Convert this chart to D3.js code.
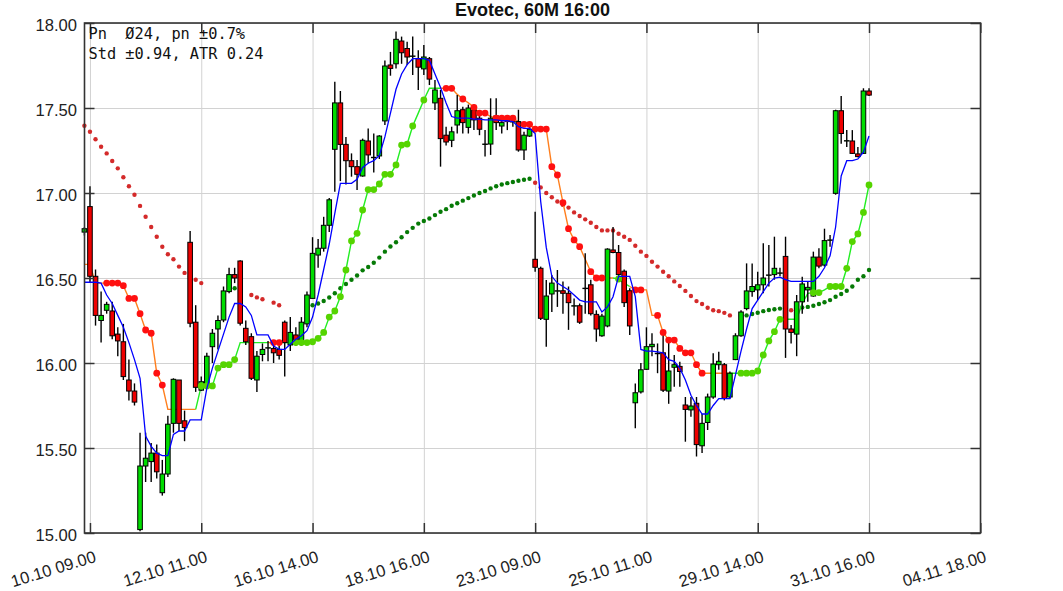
<!DOCTYPE html>
<html><head><meta charset="utf-8">
<script src="https://cdn.jsdelivr.net/npm/d3@7"></script>
<style>body{margin:0;background:#fff}svg{display:block}</style>
</head><body>
<svg id="chart" width="1063" height="591"></svg>
<script>
// ---------- data ----------
const titleText = "Evotec, 60M 16:00";
const infoLines = ["Pn  Ø24, pn ±0.7%", "Std ±0.94, ATR 0.24"];
const xTickIndex = [1, 21, 41, 61, 81, 101, 121, 141, 161];
const xTickLabels = ["10.10 09.00","12.10 11.00","16.10 14.00","18.10 16.00","23.10 09.00","25.10 11.00","29.10 14.00","31.10 16.00","04.11 18.00"];
const yTicks = [15.0, 15.5, 16.0, 16.5, 17.0, 17.5, 18.0];

const opens = [16.77,16.92,16.51,16.25,16.31,16.306,16.17,16.125,15.90,15.835,
15.02,15.394,15.42,15.47,15.237,15.347,15.645,15.90,15.66,16.71,
16.24,15.84,15.865,16.096,16.20,16.253,16.42,16.52,16.60,16.204,
16.155,15.90,16.05,16.09,16.085,16.08,16.24,16.106,16.165,16.12,
16.23,16.38,16.635,16.675,16.81,17.257,17.53,17.286,17.19,17.155,
17.10,17.306,17.21,17.218,17.424,17.753,17.76,17.894,17.85,17.806,
17.79,17.73,17.79,17.53,17.557,17.34,17.31,17.40,17.49,17.386,
17.488,17.44,17.288,17.288,17.453,17.394,17.42,17.42,17.42,17.253,
17.335,16.61,16.557,16.257,16.406,16.425,16.425,16.41,16.337,16.337,
16.44,16.46,16.286,16.16,16.218,16.665,16.65,16.54,16.425,15.766,
15.83,15.963,16.096,16.057,16.06,15.835,15.975,15.98,15.753,15.724,
15.763,15.513,15.65,15.80,15.99,15.99,15.80,16.02,16.16,16.32,
16.42,16.43,16.46,16.518,16.52,16.53,16.627,16.20,16.17,16.36,
16.43,16.394,16.623,16.576,16.724,16.998,17.484,17.308,17.306,17.23,
17.233,17.60];
const highs = [16.80,17.04,16.55,16.42,16.36,16.36,16.21,16.23,16.02,15.88,
15.59,15.59,15.53,15.52,15.43,15.69,15.91,15.90,15.72,16.776,
16.34,15.92,16.06,16.20,16.28,16.45,16.56,16.56,16.605,16.25,
16.175,16.07,16.115,16.13,16.115,16.10,16.25,16.27,16.21,16.27,
16.42,16.74,16.73,16.86,16.97,17.655,17.60,17.33,17.233,17.194,
17.32,17.38,17.35,17.34,17.78,17.83,17.95,17.92,17.89,17.92,
17.84,17.87,17.80,17.665,17.606,17.39,17.39,17.576,17.508,17.52,
17.52,17.46,17.37,17.557,17.557,17.445,17.45,17.445,17.49,17.36,
17.39,16.89,16.567,16.488,16.518,16.547,16.48,16.45,16.38,16.35,
16.645,16.49,16.31,16.29,16.675,16.80,16.694,16.55,16.44,15.88,
16.00,16.21,16.175,16.115,16.194,16.135,16.047,16.008,15.80,15.80,
15.80,15.70,15.82,16.057,16.066,16.00,15.95,16.175,16.31,16.586,
16.586,16.537,16.704,16.694,16.743,16.56,16.743,16.224,16.40,16.507,
16.48,16.655,16.675,16.79,16.753,17.49,17.57,17.37,17.37,17.27,
17.616,17.616];
const lows = [16.75,16.47,16.22,16.12,16.29,16.14,16.04,15.90,15.78,15.75,
15.01,15.30,15.30,15.32,15.22,15.33,15.59,15.60,15.54,16.21,
15.83,15.835,15.86,16.00,16.08,16.24,16.41,16.47,16.22,16.106,
15.90,15.83,16.01,16.01,16.00,16.02,15.92,16.07,16.10,16.10,
16.21,16.38,16.56,16.655,16.77,17.008,17.07,17.05,17.096,17.018,
17.096,17.175,17.12,17.20,17.40,17.69,17.733,17.76,17.753,17.694,
17.606,17.694,17.635,17.488,17.155,17.28,17.27,17.35,17.35,17.35,
17.37,17.34,17.214,17.224,17.37,17.35,17.37,17.39,17.243,17.194,
17.33,16.537,16.253,16.096,16.30,16.33,16.29,16.195,16.28,16.23,
16.29,16.28,16.125,16.155,16.21,16.645,16.507,16.33,16.165,15.616,
15.82,15.96,16.04,15.94,15.83,15.76,15.86,15.86,15.537,15.684,
15.45,15.47,15.606,15.79,15.96,15.78,15.79,16.017,16.155,16.31,
16.39,16.37,16.41,16.45,16.49,16.51,16.03,16.115,16.04,16.29,
16.36,16.39,16.557,16.567,16.684,16.99,17.29,17.27,17.23,17.21,
17.23,17.57];
const closes = [16.79,16.51,16.28,16.28,16.345,16.16,16.13,15.92,15.835,15.77,
15.394,15.44,15.47,15.36,15.347,15.64,15.904,15.645,15.62,16.234,
15.857,15.89,16.04,16.175,16.25,16.424,16.52,16.50,16.234,16.125,
15.91,16.04,16.08,16.09,16.06,16.045,16.12,16.18,16.135,16.24,
16.40,16.645,16.675,16.81,16.96,17.53,17.286,17.19,17.155,17.11,
17.31,17.224,17.21,17.335,17.747,17.733,17.904,17.825,17.80,17.806,
17.74,17.80,17.67,17.606,17.32,17.30,17.36,17.484,17.414,17.50,
17.43,17.375,17.288,17.44,17.414,17.414,17.43,17.42,17.253,17.34,
17.375,16.563,16.263,16.394,16.47,16.425,16.41,16.355,16.337,16.24,
16.44,16.29,16.20,16.276,16.67,16.65,16.52,16.355,16.218,15.825,
15.96,16.096,16.11,16.057,15.84,15.953,15.99,15.95,15.727,15.747,
15.52,15.645,15.80,15.994,16.01,15.792,15.94,16.16,16.30,16.424,
16.45,16.46,16.50,16.518,16.557,16.53,16.20,16.18,16.36,16.465,
16.445,16.623,16.57,16.72,16.724,17.484,17.35,17.308,17.233,17.214,
17.60,17.576];

// fast average (blue line)
const blueLine = [16.475,16.475,16.475,16.47,16.40,16.35,16.28,16.21,16.12,16.02,
15.91,15.57,15.51,15.47,15.455,15.455,15.58,15.60,15.60,15.665,
15.665,15.665,15.85,15.97,16.07,16.17,16.27,16.35,16.35,16.33,
16.28,16.165,16.165,16.165,16.10,16.08,16.08,16.11,16.14,16.16,
16.19,16.27,16.40,16.55,16.70,16.88,17.057,17.057,17.057,17.08,
17.15,17.175,17.19,17.22,17.33,17.47,17.61,17.70,17.755,17.79,
17.79,17.79,17.78,17.70,17.62,17.53,17.45,17.44,17.44,17.44,
17.435,17.435,17.43,17.43,17.43,17.425,17.425,17.42,17.39,17.38,
17.38,17.35,16.95,16.68,16.51,16.47,16.45,16.43,16.40,16.37,
16.36,16.36,16.36,16.30,16.33,16.39,16.51,16.51,16.51,16.39,
16.08,16.07,16.07,16.065,16.06,16.02,16.01,15.97,15.90,15.81,
15.75,15.70,15.70,15.75,15.79,15.79,15.79,15.93,16.07,16.20,
16.32,16.37,16.42,16.47,16.50,16.505,16.49,16.48,16.48,16.48,
16.48,16.48,16.51,16.56,16.63,16.80,17.10,17.19,17.19,17.20,
17.24,17.335];

// trailing stop: value, side (a = above price / b = below price), marker flag
const stopValues = [16.58,16.58,16.47,16.47,16.47,16.47,16.47,16.455,16.38,16.38,
16.29,16.194,16.175,15.94,15.87,15.727,15.727,15.727,15.727,15.727,
15.727,15.865,15.865,15.865,15.97,15.99,15.99,16.02,16.12,16.12,
16.12,16.12,16.12,16.12,16.12,16.12,16.12,16.12,16.12,16.12,
16.12,16.125,16.145,16.18,16.27,16.306,16.39,16.547,16.718,16.763,
16.90,17.02,17.02,17.053,17.11,17.11,17.165,17.282,17.288,17.394,
17.47,17.547,17.616,17.616,17.616,17.616,17.616,17.58,17.553,17.53,
17.504,17.47,17.47,17.45,17.44,17.44,17.44,17.44,17.42,17.404,
17.404,17.376,17.376,17.376,17.155,17.106,16.943,16.79,16.724,16.684,
16.61,16.537,16.50,16.50,16.50,16.50,16.494,16.47,16.45,16.43,
16.43,16.43,16.28,16.28,16.18,16.135,16.135,16.086,16.06,16.06,
15.99,15.94,15.94,15.94,15.94,15.94,15.94,15.94,15.94,15.94,
15.94,15.953,16.047,16.13,16.184,16.257,16.257,16.257,16.257,16.35,
16.41,16.414,16.414,16.43,16.45,16.45,16.45,16.557,16.714,16.759,
16.886,17.047];
const stopSide =
  "aaaaaaaaaaaaaaaaaaaa" + "abbbbbbbbbbbbbaabbbb" + "bbbbbbbbbbbbbbbbbbbb" + "bbbbbaaaaaaaaaaaaaaa" +
  "aaaaaaaaaaaaaaaabbba" + "aaaaaaaaaaaaaaaaabbb" + "bbbbbbbbbbbbbbbbbbbb" + "bb";
const stopDots = [0,0,0,0,1,1,1,1,1,1, 1,1,1,1,1,0,0,0,0,0,
0,1,1,1,1,1,1,1,0,0, 0,0,0,0,1,1,0,0,1,1,
1,1,1,1,1,1,1,1,1,1, 1,1,1,1,1,1,1,1,1,1,
0,1,0,0,0,1,1,0,1,0, 1,1,1,0,1,1,1,1,0,1,
1,1,1,1,1,1,1,1,1,1, 0,1,1,1,0,0,1,0,0,1,
1,0,0,1,1,1,1,1,1,1, 1,1,0,0,0,0,0,0,1,1,
1,1,1,1,1,1,0,0,0,0, 0,1,1,0,1,1,1,1,1,1,
1,1];

// slow moving average (small dots), null where not shown
const maValues = [17.396,17.36,17.316,17.272,17.233,17.188,17.145,17.093,17.04,16.99,
16.924,16.86,16.80,16.743,16.684,16.64,16.61,16.567,16.53,16.51,
16.49,16.47,null,null,null,null,null,16.44,null,null,
16.40,16.386,16.375,null,16.355,16.34,null,null,null,null,
16.33,16.34,16.35,16.365,16.385,16.41,16.44,16.465,16.49,16.515,
16.545,16.565,16.59,16.62,16.655,16.685,16.71,16.74,16.77,16.795,
16.82,16.835,16.85,16.87,16.89,16.905,16.925,16.94,16.955,16.97,
16.985,17.0,17.012,17.027,17.04,17.05,17.058,17.065,17.072,17.078,
17.084,17.06,17.033,17.0,16.975,16.95,16.93,16.914,16.886,16.865,
16.845,16.825,16.80,16.78,16.78,16.78,16.76,16.743,16.724,16.69,
16.655,16.63,16.596,16.567,16.537,16.51,16.48,16.453,16.424,16.394,
16.364,16.347,16.325,16.31,16.305,16.295,16.28,null,null,16.28,
16.288,16.296,16.305,16.312,16.316,16.32,16.32,16.31,16.32,16.327,
16.33,16.337,16.347,16.357,16.37,16.39,16.406,16.425,16.45,16.49,
16.51,16.547];

// ---------- drawing ----------
const plot = {left: 84.5, right: 980.5, top: 23, bottom: 533};
const x = d3.scaleLinear().domain([0, 161]).range([84.4, 980.3]);
const y = d3.scaleLinear().domain([15, 18]).range([plot.bottom, plot.top]);
const svg = d3.select("#chart");
const FONT = "'Liberation Sans', Arial, sans-serif";

// grid
svg.append("g").attr("transform", `translate(0,${plot.bottom})`)
  .call(d3.axisBottom(x).tickValues(xTickIndex).tickSize(-(plot.bottom - plot.top)).tickSizeOuter(0).tickFormat(""))
  .call(g => g.select(".domain").remove())
  .call(g => g.selectAll("line").attr("stroke", "#d2d2d2").attr("stroke-width", 1));
svg.append("g").attr("transform", `translate(${plot.left},0)`)
  .call(d3.axisLeft(y).tickValues(yTicks).tickSize(-(plot.right - plot.left)).tickSizeOuter(0).tickFormat(""))
  .call(g => g.select(".domain").remove())
  .call(g => g.selectAll("line").attr("stroke", "#d2d2d2").attr("stroke-width", 1));

const idx = d3.range(opens.length);

// slow MA dots
svg.append("g").selectAll("circle")
  .data(idx.filter(i => maValues[i] != null))
  .join("circle")
  .attr("cx", i => x(i)).attr("cy", i => y(maValues[i])).attr("r", 2.2)
  .attr("fill", i => closes[i] >= maValues[i] ? "#067a06" : "#d42a2a");

// trailing stop lines (runs by side)
const stopColor = s => s === "a" ? "#ff7f1e" : "#22ee22";
const runs = [];
idx.forEach(i => {
  const s = stopSide[i];
  if (!runs.length || runs[runs.length - 1].side !== s) {
    const pts = i > 0 ? [i - 1, i] : [i];
    runs.push({side: s, pts});
  } else runs[runs.length - 1].pts.push(i);
});
const stopLine = d3.line().x(i => x(i)).y(i => y(stopValues[i]));
svg.append("g").selectAll("path").data(runs).join("path")
  .attr("d", r => stopLine(r.pts)).attr("fill", "none")
  .attr("stroke", r => stopColor(r.side)).attr("stroke-width", 1.4);

// candles
const cg = svg.append("g");
cg.selectAll("line").data(idx).join("line")
  .attr("x1", i => x(i)).attr("x2", i => x(i))
  .attr("y1", i => y(highs[i])).attr("y2", i => y(lows[i]))
  .attr("stroke", "#000").attr("stroke-width", 1.4);
cg.selectAll("rect").data(idx).join("rect")
  .attr("x", i => x(i) - 2.3).attr("width", 4.6)
  .attr("y", i => y(Math.max(opens[i], closes[i])))
  .attr("height", i => Math.max(0.4, Math.abs(y(opens[i]) - y(closes[i]))))
  .attr("fill", i => closes[i] >= opens[i] ? "#00dd00" : "#ee0000")
  .attr("stroke", "#000").attr("stroke-width", 1);

// stop markers
svg.append("g").selectAll("circle").data(idx.filter(i => stopDots[i]))
  .join("circle")
  .attr("cx", i => x(i)).attr("cy", i => y(stopValues[i])).attr("r", 3.4)
  .attr("fill", i => stopSide[i] === "a" ? "#ff1010" : "#55d400");

// blue line
svg.append("path").datum(idx)
  .attr("d", d3.line().x(i => x(i)).y(i => y(blueLine[i])))
  .attr("fill", "none").attr("stroke", "#0000ff").attr("stroke-width", 1.3);

// axes (ticks inside)
const axStyle = g => {
  g.select(".domain").remove();
  g.selectAll("line").attr("stroke", "#333").attr("stroke-width", 1.5);
  g.selectAll("text").attr("font-family", FONT).attr("font-size", 16.6).attr("fill", "#222");
};
svg.append("g").attr("transform", `translate(${plot.left},0)`)
  .call(d3.axisLeft(y).tickValues(yTicks).tickSize(-10).tickSizeOuter(0).tickFormat(d3.format(".2f")))
  .call(axStyle)
  .call(g => g.selectAll("text").attr("x", -7.5).attr("dy", "0.46em"));
svg.append("g").attr("transform", `translate(${plot.right},0)`)
  .call(d3.axisRight(y).tickValues(yTicks).tickSize(-10).tickSizeOuter(0).tickFormat(""))
  .call(axStyle);
svg.append("g").attr("transform", `translate(0,${plot.top})`)
  .call(d3.axisTop(x).tickValues(xTickIndex).tickSize(-10).tickSizeOuter(0).tickFormat(""))
  .call(axStyle);
svg.append("g").attr("transform", `translate(0,${plot.bottom})`)
  .call(d3.axisBottom(x).tickValues(xTickIndex).tickSize(-10).tickSizeOuter(0).tickFormat((d, i) => xTickLabels[i]))
  .call(axStyle)
  .call(g => g.selectAll("text").attr("x", 0).attr("y", 0).attr("dy", 0)
     .attr("text-anchor", "end").attr("transform", "translate(6.5,28.5) rotate(-17)"));

// frame
svg.append("rect").attr("x", plot.left).attr("y", plot.top)
  .attr("width", plot.right - plot.left).attr("height", plot.bottom - plot.top)
  .attr("fill", "none").attr("stroke", "#333").attr("stroke-width", 1.6);

// title
svg.append("text").attr("x", (plot.left + plot.right) / 2).attr("y", 15.5)
  .attr("text-anchor", "middle").attr("font-family", FONT).attr("font-weight", "bold")
  .attr("font-size", 18).attr("fill", "#111").text(titleText);

// info text
svg.append("g").selectAll("text").data(infoLines).join("text")
  .attr("x", 88.5).attr("y", (d, i) => 38.5 + i * 20)
  .attr("font-family", "'DejaVu Sans Mono', monospace").attr("font-size", 15.3)
  .attr("fill", "#111").style("white-space", "pre").text(d => d);
</script>
</body></html>
